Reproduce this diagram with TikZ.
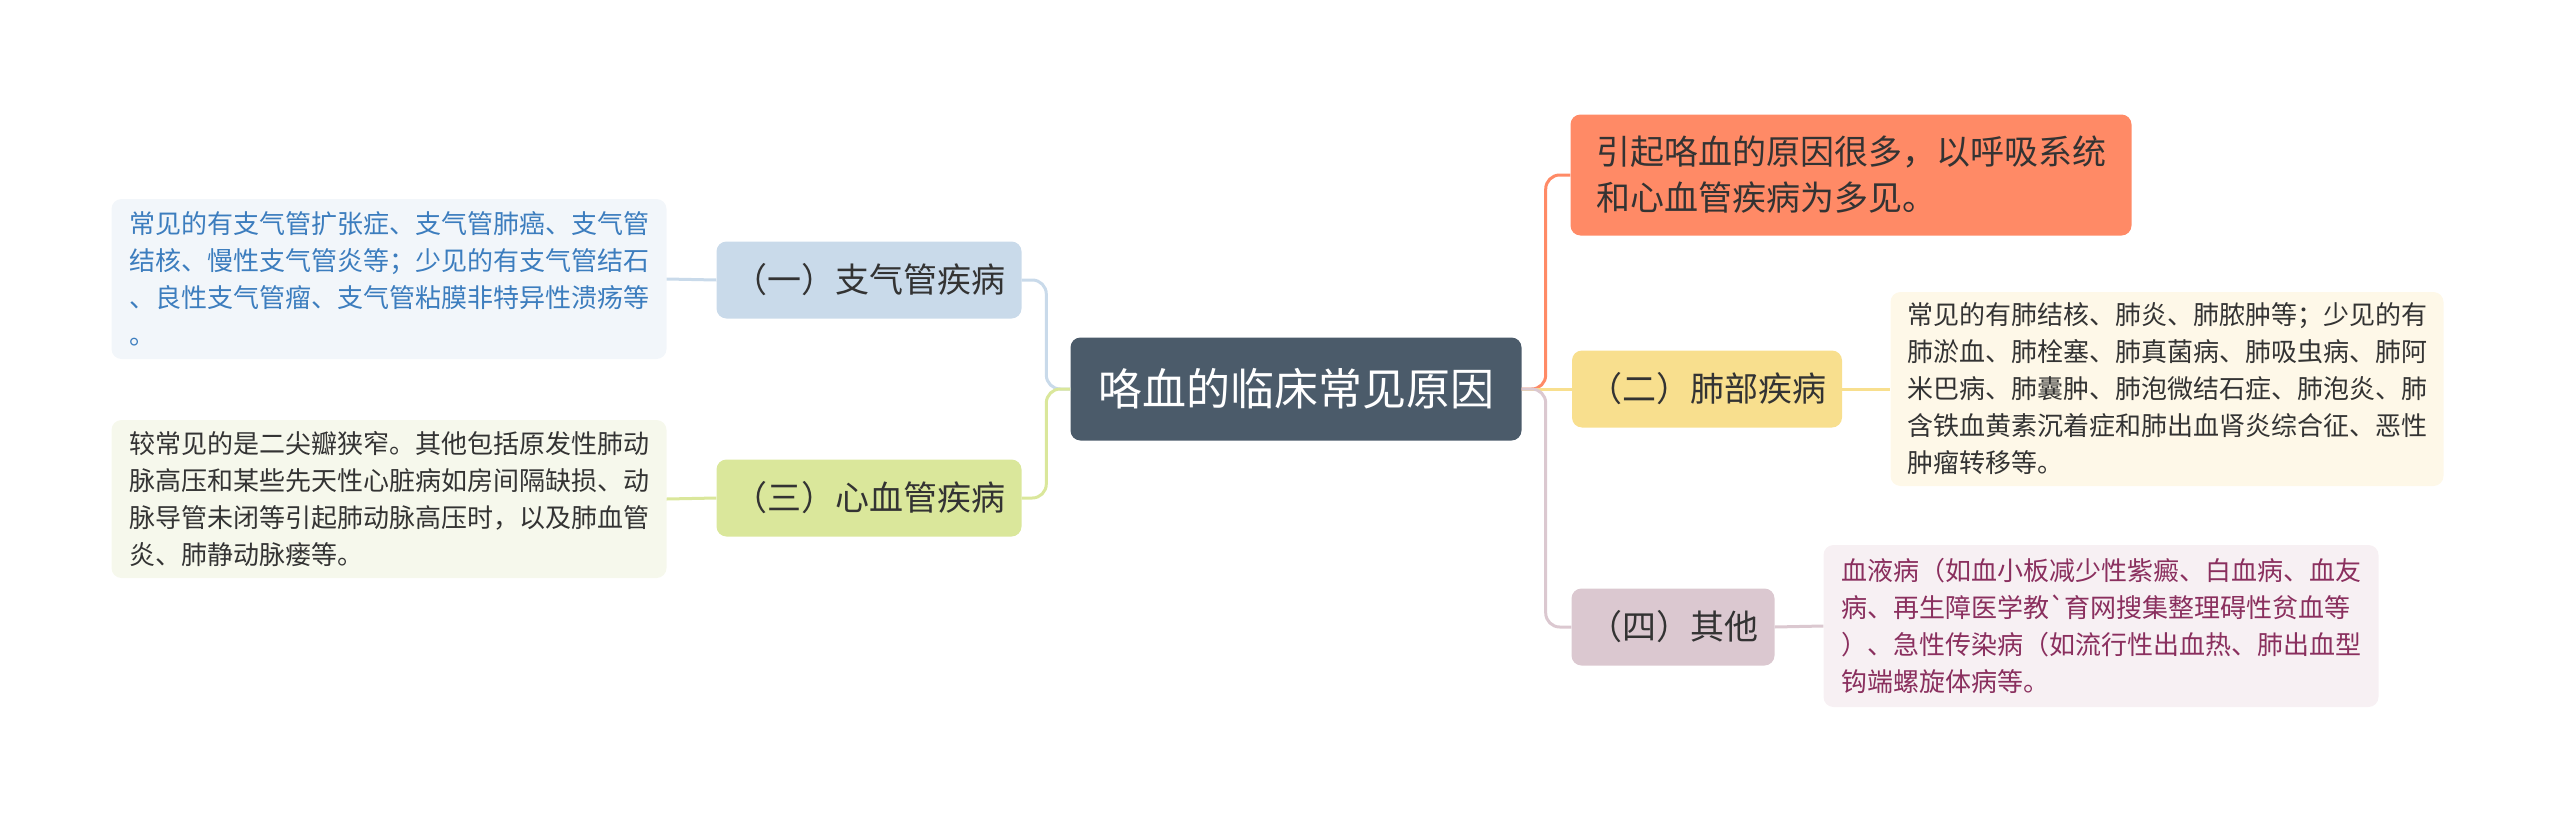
\documentclass[tikz,border=0pt]{standalone}
\usepackage{fontspec}
\setmainfont{Noto Sans CJK SC}
\usetikzlibrary{positioning}

\definecolor{rootfill}{HTML}{4B5B6A}
\definecolor{bluefill}{HTML}{C9DAEA}
\definecolor{greenfill}{HTML}{DAE79B}
\definecolor{orangefill}{HTML}{FF8A66}
\definecolor{yellowfill}{HTML}{F8DF8E}
\definecolor{pinkfill}{HTML}{DBC8D0}
\definecolor{bluenote}{HTML}{F2F6FA}
\definecolor{greennote}{HTML}{F6F8EC}
\definecolor{yellownote}{HTML}{FEF8E8}
\definecolor{pinknote}{HTML}{F7F0F3}
\definecolor{bluetext}{HTML}{3C7DBE}
\definecolor{pinktext}{HTML}{8A2F5E}
\definecolor{darktext}{HTML}{333333}

\begin{document}
\begin{tikzpicture}[x=1pt,y=-1pt,
  box/.style={rounded corners=10pt,inner sep=0pt,align=center},
  topic/.style={box,font=\fontsize{34}{40}\selectfont,text=darktext,minimum height=77pt},
  note/.style={box,font=\fontsize{26}{37}\selectfont,align=left,minimum width=555pt},
  link/.style={line width=3pt,rounded corners=14pt}]
  \useasboundingbox (0,0) rectangle (2560,822);

  % Root
  \node[box,fill=rootfill,text=white,font=\fontsize{44}{50}\selectfont,
    minimum width=451pt,minimum height=103pt] (root) at (1296,389) {咯血的临床常见原因};

  % Left topics and their notes
  \node[topic,fill=bluefill,minimum width=305pt] (bronchus) at (869,280) {（一）支气管疾病};
  \node[topic,fill=greenfill,minimum width=305pt] (heart) at (869,498) {（三）心血管疾病};
  \node[note,fill=bluenote,text=bluetext,minimum height=160pt] (bronchusnote) at (389,279) {%
    常见的有支气管扩张症、支气管肺癌、支气管\\
    结核、慢性支气管炎等；少见的有支气管结石\\
    、良性支气管瘤、支气管粘膜非特异性溃疡等\\
    。};
  \node[note,fill=greennote,text=darktext,minimum height=158pt] (heartnote) at (389,499) {%
    较常见的是二尖瓣狭窄。其他包括原发性肺动\\
    脉高压和某些先天性心脏病如房间隔缺损、动\\
    脉导管未闭等引起肺动脉高压时，以及肺血管\\
    炎、肺静动脉瘘等。};

  % Right topics and their notes
  \node[box,fill=orangefill,text=darktext,font=\fontsize{34}{46}\selectfont,align=left,
    minimum width=561pt,minimum height=121pt] (cause) at (1851,175) {%
    引起咯血的原因很多，以呼吸系统\\
    和心血管疾病为多见。};
  \node[topic,fill=yellowfill,minimum width=270pt] (lung) at (1707,389) {（二）肺部疾病};
  \node[topic,fill=pinkfill,minimum width=203pt] (other) at (1673,627) {（四）其他};
  \node[note,fill=yellownote,text=darktext,minimum width=553pt,minimum height=194pt] (lungnote) at (2167,389) {%
    常见的有肺结核、肺炎、肺脓肿等；少见的有\\
    肺淤血、肺栓塞、肺真菌病、肺吸虫病、肺阿\\
    米巴病、肺囊肿、肺泡微结石症、肺泡炎、肺\\
    含铁血黄素沉着症和肺出血肾炎综合征、恶性\\
    肿瘤转移等。};
  \node[note,fill=pinknote,text=pinktext,minimum height=162pt] (othernote) at (2101,626) {%
    血液病（如血小板减少性紫癜、白血病、血友\\
    病、再生障医学教\textasciigrave 育网搜集整理碍性贫血等\\
    ）、急性传染病（如流行性出血热、肺出血型\\
    钩端螺旋体病等。};

  % Connectors
  \draw[link,draw=bluefill] (root.west) -- ++(-24,0) |- (bronchus.east);
  \draw[link,draw=greenfill] (root.west) -- ++(-24,0) |- (heart.east);
  \draw[link,draw=bluefill] (bronchus.west) -- (bronchusnote.east);
  \draw[link,draw=greenfill] (heart.west) -- (heartnote.east);
  \draw[link,draw=orangefill] (root.east) -- ++(24,0) |- (cause.west);
  \draw[link,draw=yellowfill] (root.east) -- (lung.west);
  \draw[link,draw=pinkfill] (root.east) -- ++(24,0) |- (other.west);
  \draw[link,draw=yellowfill] (lung.east) -- (lungnote.west);
  \draw[link,draw=pinkfill] (other.east) -- (othernote.west);
\end{tikzpicture}
\end{document}
